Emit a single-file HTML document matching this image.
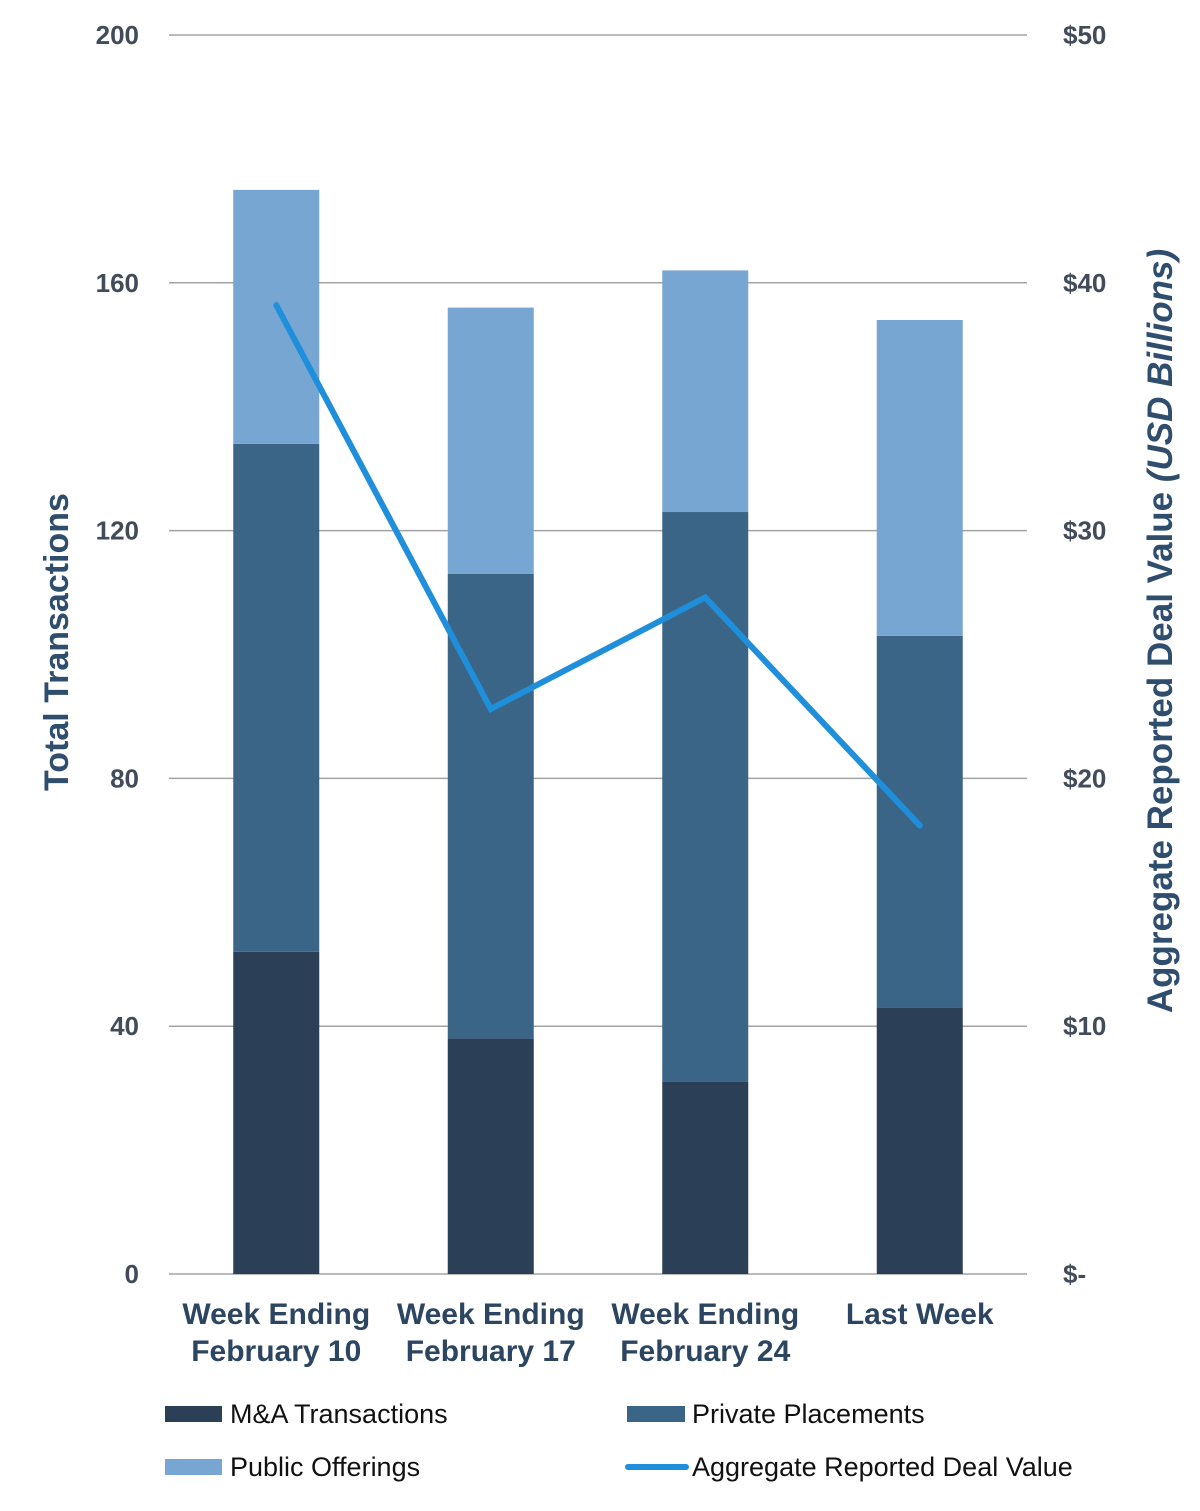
<!DOCTYPE html>
<html><head><meta charset="utf-8">
<style>
html,body{margin:0;padding:0;background:#fff;width:1200px;height:1511px;overflow:hidden}
svg text{font-family:"Liberation Sans",sans-serif}
</style></head>
<body>
<svg id="chart" width="1200" height="1511" viewBox="0 0 1200 1511" xmlns="http://www.w3.org/2000/svg">
  <g id="grid"></g>
  <g id="bars"></g>
  <g id="line"></g>
  <g id="yleft"></g>
  <g id="yright"></g>
  <g id="xcats"></g>
  <text transform="translate(68,642) rotate(-90)" text-anchor="middle" font-size="34" fill="#2f4e6e" font-weight="bold">Total Transactions</text>
  <text transform="translate(1172,631) rotate(-90)" text-anchor="middle" font-size="35" fill="#2f4e6e" font-weight="bold">Aggregate Reported Deal Value  <tspan font-style="italic">(USD Billions)</tspan></text>
  <g>
    <g>
      <rect x="165" y="1406" width="57" height="16" fill="#2b3f56"/>
      <text x="230" y="1423" font-size="27" fill="#111">M&amp;A Transactions</text>
    </g>
    <g>
      <rect x="627" y="1406" width="58" height="16" fill="#3b6586"/>
      <text x="692" y="1423" font-size="27" fill="#111">Private Placements</text>
    </g>
    <g>
      <rect x="165" y="1459" width="57" height="16" fill="#76a6d1"/>
      <text x="230" y="1476" font-size="27" fill="#111">Public Offerings</text>
    </g>
    <g>
      <line x1="628" y1="1467" x2="686" y2="1467" stroke="#1f8fdc" stroke-width="6" stroke-linecap="round"/>
      <text x="692" y="1476" font-size="27" fill="#111">Aggregate Reported Deal Value</text>
    </g>
  </g>
</svg>
<script>
const categories = [["Week Ending","February 10"],["Week Ending","February 17"],["Week Ending","February 24"],["Last Week"]];
const maValues = [52, 38, 31, 43];
const privateValues = [82, 75, 92, 60];
const publicValues = [41, 43, 39, 51];
const dealValues = [39.1, 22.8, 27.3, 18.1];
const leftTicks = [0, 40, 80, 120, 160, 200];
const rightTicks = [0, 10, 20, 30, 40, 50];
const rightTickLabels = ["$-", "$10", "$20", "$30", "$40", "$50"];

const NS = "http://www.w3.org/2000/svg";
const X0 = 169, X1 = 1027, Y0 = 1274, Y1 = 35;
const yL = v => Y0 - (v / 200) * (Y0 - Y1);
const yR = v => Y0 - (v / 50) * (Y0 - Y1);
const band = (X1 - X0) / categories.length;
const xC = i => X0 + band * (i + 0.5);
const BW = 86;
function mk(tag, attrs, parent) {
  const el = document.createElementNS(NS, tag);
  for (const k in attrs) el.setAttribute(k, attrs[k]);
  parent.appendChild(el);
  return el;
}
const grid = document.getElementById('grid');
leftTicks.forEach(t => {
  const l = mk('line', {x1: X0, x2: X1, y1: yL(t), y2: yL(t), stroke: '#a3a3a3', 'stroke-width': 1.5}, grid);
  
  
});
const yl = document.getElementById('yleft');
leftTicks.forEach(t => {
  const tx = mk('text', {x: 139, y: yL(t) + 9, 'text-anchor': 'end', 'font-size': 26, 'font-weight': 'bold', fill: '#414b5a'}, yl);
  tx.textContent = t;
  
  
});
const yr = document.getElementById('yright');
rightTicks.forEach((t, i) => {
  const tx = mk('text', {x: 1063, y: yR(t) + 9, 'text-anchor': 'start', 'font-size': 26, 'font-weight': 'bold', fill: '#414b5a'}, yr);
  tx.textContent = rightTickLabels[i];
  
  
});
const bars = document.getElementById('bars');
categories.forEach((c, i) => {
  const segs = [[maValues[i], '#2b3f56', 'bar-ma'], [privateValues[i], '#3b6586', 'bar-private'], [publicValues[i], '#76a6d1', 'bar-public']];
  let base = 0;
  segs.forEach(s => {
    const top = base + s[0];
    const r = mk('rect', {x: xC(i) - BW / 2, y: yL(top), width: BW, height: yL(base) - yL(top), fill: s[1]}, bars);
    
    
    base = top;
  });
});
const lg = document.getElementById('line');
const pts = dealValues.map((v, i) => xC(i) + ',' + yR(v)).join(' ');
const pl = mk('polyline', {points: pts, fill: 'none', stroke: '#1f8fdc', 'stroke-width': 6, 'stroke-linecap': 'round', 'stroke-linejoin': 'miter'}, lg);


const xc = document.getElementById('xcats');
categories.forEach((c, i) => {
  c.forEach((ln, j) => {
    const tx = mk('text', {x: xC(i), y: 1324 + j * 37, 'text-anchor': 'middle', 'font-size': 30, 'font-weight': 'bold', fill: '#2c4560'}, xc);
    tx.textContent = ln;
    
    
  });
});
</script>
</body></html>
